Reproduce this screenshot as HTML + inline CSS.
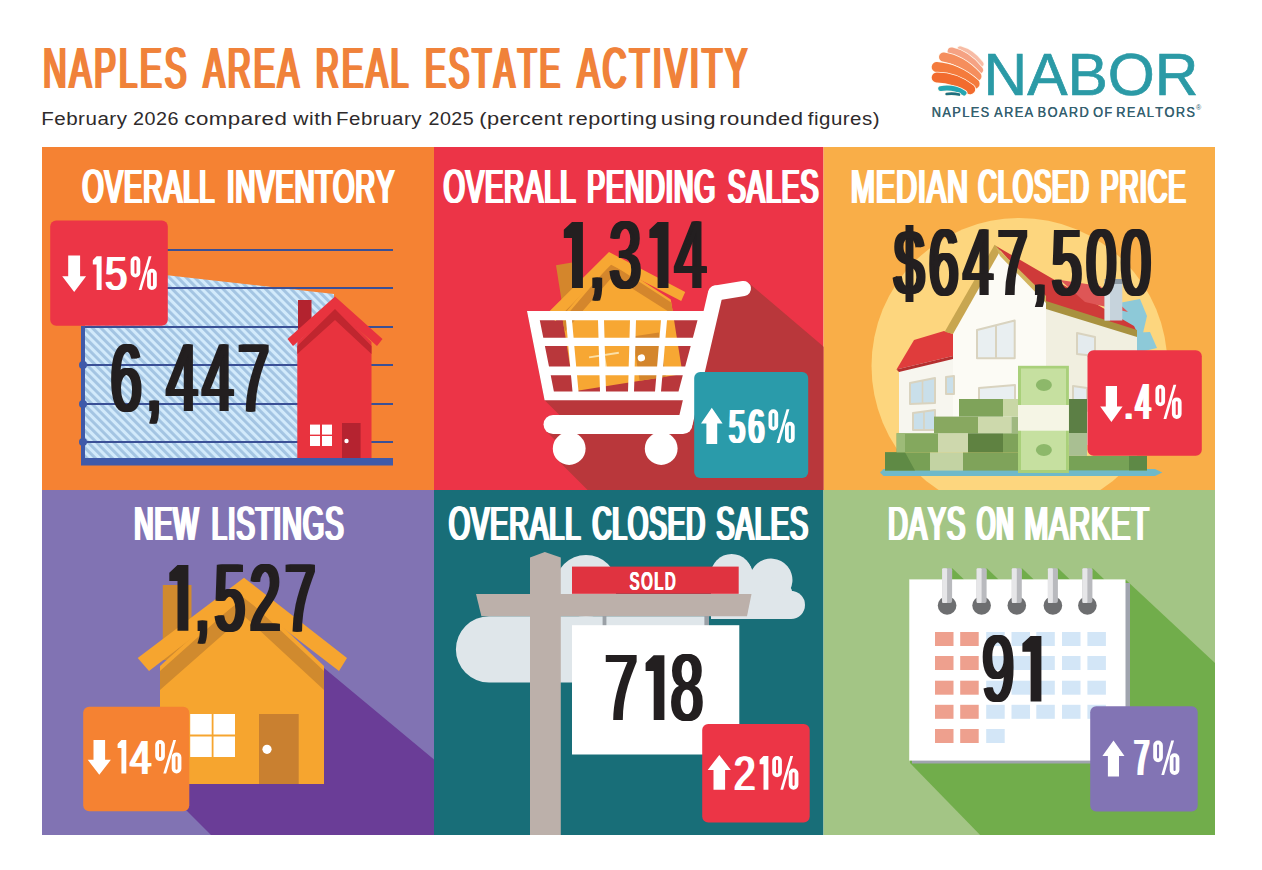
<!DOCTYPE html>
<html><head><meta charset="utf-8"><title>Naples Area Real Estate Activity</title>
<style>
html,body{margin:0;padding:0;background:#fff;}
body{width:1262px;height:870px;overflow:hidden;}
svg{display:block;}
text{font-family:"Liberation Sans",sans-serif;font-kerning:none;font-variant-ligatures:none;}
</style></head><body>
<svg width="1262" height="870" viewBox="0 0 1262 870">
<g><text transform="translate(41.63,88.00) scale(0.5662,1)" font-size="57.41" letter-spacing="5.30" fill="#f0823a">NAPLES</text><g transform="translate(0.99,0)"><text transform="translate(41.63,88.00) scale(0.5662,1)" font-size="57.41" letter-spacing="5.30" fill="#f0823a">NAPLES</text></g><g transform="translate(1.98,0)"><text transform="translate(41.63,88.00) scale(0.5662,1)" font-size="57.41" letter-spacing="5.30" fill="#f0823a">NAPLES</text></g><g transform="translate(2.97,0)"><text transform="translate(41.63,88.00) scale(0.5662,1)" font-size="57.41" letter-spacing="5.30" fill="#f0823a">NAPLES</text></g><text transform="translate(202.04,88.00) scale(0.5532,1)" font-size="57.41" letter-spacing="5.42" fill="#f0823a">AREA</text><g transform="translate(1.01,0)"><text transform="translate(202.04,88.00) scale(0.5532,1)" font-size="57.41" letter-spacing="5.42" fill="#f0823a">AREA</text></g><g transform="translate(2.03,0)"><text transform="translate(202.04,88.00) scale(0.5532,1)" font-size="57.41" letter-spacing="5.42" fill="#f0823a">AREA</text></g><g transform="translate(3.04,0)"><text transform="translate(202.04,88.00) scale(0.5532,1)" font-size="57.41" letter-spacing="5.42" fill="#f0823a">AREA</text></g><text transform="translate(314.28,88.00) scale(0.5572,1)" font-size="57.41" letter-spacing="5.38" fill="#f0823a">REAL</text><g transform="translate(1.01,0)"><text transform="translate(314.28,88.00) scale(0.5572,1)" font-size="57.41" letter-spacing="5.38" fill="#f0823a">REAL</text></g><g transform="translate(2.01,0)"><text transform="translate(314.28,88.00) scale(0.5572,1)" font-size="57.41" letter-spacing="5.38" fill="#f0823a">REAL</text></g><g transform="translate(3.02,0)"><text transform="translate(314.28,88.00) scale(0.5572,1)" font-size="57.41" letter-spacing="5.38" fill="#f0823a">REAL</text></g><text transform="translate(423.67,88.00) scale(0.5370,1)" font-size="57.41" letter-spacing="5.59" fill="#f0823a">ESTATE</text><g transform="translate(1.04,0)"><text transform="translate(423.67,88.00) scale(0.5370,1)" font-size="57.41" letter-spacing="5.59" fill="#f0823a">ESTATE</text></g><g transform="translate(2.08,0)"><text transform="translate(423.67,88.00) scale(0.5370,1)" font-size="57.41" letter-spacing="5.59" fill="#f0823a">ESTATE</text></g><g transform="translate(3.12,0)"><text transform="translate(423.67,88.00) scale(0.5370,1)" font-size="57.41" letter-spacing="5.59" fill="#f0823a">ESTATE</text></g><text transform="translate(576.04,88.00) scale(0.5758,1)" font-size="57.41" letter-spacing="5.21" fill="#f0823a">ACTIVITY</text><g transform="translate(0.97,0)"><text transform="translate(576.04,88.00) scale(0.5758,1)" font-size="57.41" letter-spacing="5.21" fill="#f0823a">ACTIVITY</text></g><g transform="translate(1.94,0)"><text transform="translate(576.04,88.00) scale(0.5758,1)" font-size="57.41" letter-spacing="5.21" fill="#f0823a">ACTIVITY</text></g><g transform="translate(2.92,0)"><text transform="translate(576.04,88.00) scale(0.5758,1)" font-size="57.41" letter-spacing="5.21" fill="#f0823a">ACTIVITY</text></g></g>
<g><text transform="translate(41.21,125.00) scale(1.0875,1)" font-size="18.90" font-weight="400" letter-spacing="0.46" fill="#2e2a2b">February</text><text transform="translate(132.91,125.00) scale(1.0458,1)" font-size="18.90" font-weight="400" letter-spacing="0.48" fill="#2e2a2b">2026</text><text transform="translate(184.25,125.00) scale(1.1804,1)" font-size="18.90" font-weight="400" letter-spacing="0.42" fill="#2e2a2b">compared</text><text transform="translate(293.33,125.00) scale(1.1110,1)" font-size="18.90" font-weight="400" letter-spacing="0.45" fill="#2e2a2b">with</text><text transform="translate(336.12,125.00) scale(1.0834,1)" font-size="18.90" font-weight="400" letter-spacing="0.46" fill="#2e2a2b">February</text><text transform="translate(428.41,125.00) scale(1.0449,1)" font-size="18.90" font-weight="400" letter-spacing="0.48" fill="#2e2a2b">2025</text><text transform="translate(479.15,125.00) scale(1.1528,1)" font-size="18.90" font-weight="400" letter-spacing="0.43" fill="#2e2a2b">(percent</text><text transform="translate(567.97,125.00) scale(1.1414,1)" font-size="18.90" font-weight="400" letter-spacing="0.44" fill="#2e2a2b">reporting</text><text transform="translate(660.87,125.00) scale(1.1679,1)" font-size="18.90" font-weight="400" letter-spacing="0.43" fill="#2e2a2b">using</text><text transform="translate(719.13,125.00) scale(1.1679,1)" font-size="18.90" font-weight="400" letter-spacing="0.43" fill="#2e2a2b">rounded</text><text transform="translate(807.81,125.00) scale(1.0834,1)" font-size="18.90" font-weight="400" letter-spacing="0.46" fill="#2e2a2b">figures)</text></g>
<text x="983.5" y="95.1" font-size="59.4" font-weight="400" fill="#2b9aa6" textLength="215.0" lengthAdjust="spacingAndGlyphs" stroke="#2b9aa6" stroke-width="0.7">NABOR</text>
<g><text transform="translate(931.55,117.00) scale(0.8464,1)" font-size="15.12" font-weight="400" letter-spacing="1.65" fill="#34606f">NAPLES</text><g transform="translate(0.35,0)"><text transform="translate(931.55,117.00) scale(0.8464,1)" font-size="15.12" font-weight="400" letter-spacing="1.65" fill="#34606f">NAPLES</text></g><text transform="translate(993.98,117.00) scale(0.8464,1)" font-size="15.12" font-weight="400" letter-spacing="1.65" fill="#34606f">AREA</text><g transform="translate(0.35,0)"><text transform="translate(993.98,117.00) scale(0.8464,1)" font-size="15.12" font-weight="400" letter-spacing="1.65" fill="#34606f">AREA</text></g><text transform="translate(1037.49,117.00) scale(0.8464,1)" font-size="15.12" font-weight="400" letter-spacing="1.65" fill="#34606f">BOARD</text><g transform="translate(0.35,0)"><text transform="translate(1037.49,117.00) scale(0.8464,1)" font-size="15.12" font-weight="400" letter-spacing="1.65" fill="#34606f">BOARD</text></g><text transform="translate(1092.92,117.00) scale(0.8464,1)" font-size="15.12" font-weight="400" letter-spacing="1.65" fill="#34606f">OF</text><g transform="translate(0.35,0)"><text transform="translate(1092.92,117.00) scale(0.8464,1)" font-size="15.12" font-weight="400" letter-spacing="1.65" fill="#34606f">OF</text></g><text transform="translate(1116.08,117.00) scale(0.8464,1)" font-size="15.12" font-weight="400" letter-spacing="1.65" fill="#34606f">REALTORS</text><g transform="translate(0.35,0)"><text transform="translate(1116.08,117.00) scale(0.8464,1)" font-size="15.12" font-weight="400" letter-spacing="1.65" fill="#34606f">REALTORS</text></g></g>
<text x="1196" y="110" font-size="7" fill="#2f6070" font-family="Liberation Sans">&#174;</text>
<g><path d="M960.3,49.6 Q971.5,52.5 980.2,63.9" stroke="#fffaf0" stroke-width="8.2" fill="none" stroke-linecap="round"/><path d="M960.3,49.6 Q971.5,52.5 980.2,63.9" stroke="#f7bba5" stroke-width="6.5" fill="none" stroke-linecap="round"/><path d="M951.6,51.5 Q966.3,54.4 979,70" stroke="#fffaf0" stroke-width="9.7" fill="none" stroke-linecap="round"/><path d="M951.6,51.5 Q966.3,54.4 979,70" stroke="#f5a283" stroke-width="8.0" fill="none" stroke-linecap="round"/><path d="M943.5,57 Q961.3,59.4 977,76.3" stroke="#fffaf0" stroke-width="10.7" fill="none" stroke-linecap="round"/><path d="M943.5,57 Q961.3,59.4 977,76.3" stroke="#f58e5d" stroke-width="9.0" fill="none" stroke-linecap="round"/><path d="M936.7,67 Q957,68.5 974.6,83.8" stroke="#fffaf0" stroke-width="11.7" fill="none" stroke-linecap="round"/><path d="M936.7,67 Q957,68.5 974.6,83.8" stroke="#f47b3d" stroke-width="10.0" fill="none" stroke-linecap="round"/><path d="M936.7,77.5 Q954.8,77.3 970.2,89.3" stroke="#fffaf0" stroke-width="11.7" fill="none" stroke-linecap="round"/><path d="M936.7,77.5 Q954.8,77.3 970.2,89.3" stroke="#f26b2e" stroke-width="10.0" fill="none" stroke-linecap="round"/><path d="M940.7,88.6 Q953.8,86.5 964,93" stroke="#fffaf0" stroke-width="6.7" fill="none" stroke-linecap="round"/><path d="M940.7,88.6 Q953.8,86.5 964,93" stroke="#25a6b2" stroke-width="5.0" fill="none" stroke-linecap="round"/><path d="M946.6,94 Q953,93 959,94.6" stroke="#fffaf0" stroke-width="4.3" fill="none" stroke-linecap="round"/><path d="M946.6,94 Q953,93 959,94.6" stroke="#1f6f7e" stroke-width="2.6" fill="none" stroke-linecap="round"/></g>
<rect x="42.0" y="147.0" width="392.0" height="343.0" fill="#f58233"/>
<rect x="434.0" y="147.0" width="389.5" height="343.0" fill="#ec3447"/>
<rect x="823.5" y="147.0" width="391.5" height="343.0" fill="#f9ae48"/>
<rect x="42.0" y="490.0" width="392.0" height="345.0" fill="#8173b3"/>
<rect x="434.0" y="490.0" width="389.5" height="345.0" fill="#186e78"/>
<rect x="823.5" y="490.0" width="391.5" height="345.0" fill="#a3c585"/>
<defs><pattern id="hatch" patternUnits="userSpaceOnUse" width="6.0" height="6.0" patternTransform="rotate(-45)">
<rect width="6.0" height="6.0" fill="#d2eafb"/><rect width="2.9" height="6.0" fill="#a3c4e2"/></pattern></defs>
<polygon points="85.0,266.0 334.0,294.0 334.0,458.0 85.0,458.0" fill="url(#hatch)"/>
<line x1="83.0" y1="250.0" x2="393.0" y2="250.0" stroke="#3a5096" stroke-width="2.2" stroke-linecap="butt"/>
<line x1="83.0" y1="288.0" x2="393.0" y2="288.0" stroke="#3a5096" stroke-width="2.2" stroke-linecap="butt"/>
<line x1="83.0" y1="327.0" x2="393.0" y2="327.0" stroke="#3a5096" stroke-width="2.2" stroke-linecap="butt"/>
<line x1="83.0" y1="365.0" x2="393.0" y2="365.0" stroke="#3a5096" stroke-width="2.2" stroke-linecap="butt"/>
<line x1="83.0" y1="404.0" x2="393.0" y2="404.0" stroke="#3a5096" stroke-width="2.2" stroke-linecap="butt"/>
<line x1="83.0" y1="442.0" x2="393.0" y2="442.0" stroke="#3a5096" stroke-width="2.2" stroke-linecap="butt"/>
<rect x="81.0" y="326.0" width="4.0" height="139.0" fill="#3f5aa9"/>
<circle cx="83.0" cy="365.0" r="4.0" fill="#3f5aa9"/>
<circle cx="83.0" cy="404.0" r="4.0" fill="#3f5aa9"/>
<circle cx="83.0" cy="442.0" r="4.0" fill="#3f5aa9"/>
<rect x="81.0" y="458.0" width="312.0" height="7.5" fill="#3f5aa9"/>
<rect x="298.0" y="300.0" width="13.5" height="30.0" fill="#b3232f"/>
<polygon points="297.3,342.0 335.0,306.0 371.5,342.0 371.5,458.0 297.3,458.0" fill="#e8333e"/>
<polygon points="287.5,339.0 335.0,296.4 382.5,339.0 377.0,346.0 335.0,309.0 293.0,346.0" fill="#e8333e"/>
<polygon points="297.3,346.0 335.0,309.0 371.5,346.0 371.5,354.0 335.0,320.0 297.3,354.0" fill="#c0262f"/>
<rect x="310.0" y="424.6" width="10.0" height="10.0" fill="#ffffff"/>
<rect x="322.0" y="424.6" width="10.0" height="10.0" fill="#ffffff"/>
<rect x="310.0" y="436.0" width="10.0" height="10.0" fill="#ffffff"/>
<rect x="322.0" y="436.0" width="10.0" height="10.0" fill="#ffffff"/>
<rect x="342.0" y="423.0" width="18.6" height="35.0" fill="#b52330"/>
<circle cx="346.5" cy="441.0" r="2.2" fill="#ffffff"/>
<g><text transform="translate(108.14,411.10) scale(0.5817,1)" font-size="96.66" fill="#231f20">6</text><g transform="translate(1.14,0)"><text transform="translate(108.14,411.10) scale(0.5817,1)" font-size="96.66" fill="#231f20">6</text></g><g transform="translate(2.28,0)"><text transform="translate(108.14,411.10) scale(0.5817,1)" font-size="96.66" fill="#231f20">6</text></g><g transform="translate(3.42,0)"><text transform="translate(108.14,411.10) scale(0.5817,1)" font-size="96.66" fill="#231f20">6</text></g><g transform="translate(4.56,0)"><text transform="translate(108.14,411.10) scale(0.5817,1)" font-size="96.66" fill="#231f20">6</text></g><text transform="translate(143.97,411.10) scale(0.5817,1)" font-size="96.66" fill="#231f20">,</text><g transform="translate(1.14,0)"><text transform="translate(143.97,411.10) scale(0.5817,1)" font-size="96.66" fill="#231f20">,</text></g><g transform="translate(2.28,0)"><text transform="translate(143.97,411.10) scale(0.5817,1)" font-size="96.66" fill="#231f20">,</text></g><g transform="translate(3.42,0)"><text transform="translate(143.97,411.10) scale(0.5817,1)" font-size="96.66" fill="#231f20">,</text></g><g transform="translate(4.56,0)"><text transform="translate(143.97,411.10) scale(0.5817,1)" font-size="96.66" fill="#231f20">,</text></g><text transform="translate(164.15,411.10) scale(0.5817,1)" font-size="96.66" fill="#231f20">4</text><g transform="translate(1.14,0)"><text transform="translate(164.15,411.10) scale(0.5817,1)" font-size="96.66" fill="#231f20">4</text></g><g transform="translate(2.28,0)"><text transform="translate(164.15,411.10) scale(0.5817,1)" font-size="96.66" fill="#231f20">4</text></g><g transform="translate(3.42,0)"><text transform="translate(164.15,411.10) scale(0.5817,1)" font-size="96.66" fill="#231f20">4</text></g><g transform="translate(4.56,0)"><text transform="translate(164.15,411.10) scale(0.5817,1)" font-size="96.66" fill="#231f20">4</text></g><text transform="translate(199.98,411.10) scale(0.5817,1)" font-size="96.66" fill="#231f20">4</text><g transform="translate(1.14,0)"><text transform="translate(199.98,411.10) scale(0.5817,1)" font-size="96.66" fill="#231f20">4</text></g><g transform="translate(2.28,0)"><text transform="translate(199.98,411.10) scale(0.5817,1)" font-size="96.66" fill="#231f20">4</text></g><g transform="translate(3.42,0)"><text transform="translate(199.98,411.10) scale(0.5817,1)" font-size="96.66" fill="#231f20">4</text></g><g transform="translate(4.56,0)"><text transform="translate(199.98,411.10) scale(0.5817,1)" font-size="96.66" fill="#231f20">4</text></g><text transform="translate(235.80,411.10) scale(0.5817,1)" font-size="96.66" fill="#231f20">7</text><g transform="translate(1.14,0)"><text transform="translate(235.80,411.10) scale(0.5817,1)" font-size="96.66" fill="#231f20">7</text></g><g transform="translate(2.28,0)"><text transform="translate(235.80,411.10) scale(0.5817,1)" font-size="96.66" fill="#231f20">7</text></g><g transform="translate(3.42,0)"><text transform="translate(235.80,411.10) scale(0.5817,1)" font-size="96.66" fill="#231f20">7</text></g><g transform="translate(4.56,0)"><text transform="translate(235.80,411.10) scale(0.5817,1)" font-size="96.66" fill="#231f20">7</text></g></g>
<rect x="50.2" y="220.5" width="117.6" height="105.3" fill="#ec3546" rx="6"/>
<polygon points="74.2,291.9 86.1,276.3 80.1,276.3 80.1,255.6 68.2,255.6 68.2,276.3 62.2,276.3" fill="#ffffff"/>
<g><polygon points="96.6,256.3 101.6,256.3 101.6,290.0 96.6,290.0 96.6,264.5 92.8,264.5 92.8,260.3" fill="#ffffff"/><text transform="translate(104.06,290.00) scale(0.8119,1)" font-size="48.98" fill="#ffffff">5</text><g transform="translate(1.15,0)"><text transform="translate(104.06,290.00) scale(0.8119,1)" font-size="48.98" fill="#ffffff">5</text></g><g transform="translate(2.29,0)"><text transform="translate(104.06,290.00) scale(0.8119,1)" font-size="48.98" fill="#ffffff">5</text></g></g>
<rect x="132.50" y="258.20" width="5.89" height="17.43" rx="2.95" fill="none" stroke="#ffffff" stroke-width="3.8"/><rect x="149.01" y="270.67" width="5.89" height="17.43" rx="2.95" fill="none" stroke="#ffffff" stroke-width="3.8"/><polygon points="148.68,256.30 151.48,256.30 141.52,290.00 138.72,290.00" fill="#ffffff"/>
<g><text transform="translate(81.01,202.70) scale(0.5624,1)" font-size="48.55" letter-spacing="1.78" fill="#ffffff">OVERALL</text><g transform="translate(0.95,0)"><text transform="translate(81.01,202.70) scale(0.5624,1)" font-size="48.55" letter-spacing="1.78" fill="#ffffff">OVERALL</text></g><g transform="translate(1.90,0)"><text transform="translate(81.01,202.70) scale(0.5624,1)" font-size="48.55" letter-spacing="1.78" fill="#ffffff">OVERALL</text></g><g transform="translate(2.85,0)"><text transform="translate(81.01,202.70) scale(0.5624,1)" font-size="48.55" letter-spacing="1.78" fill="#ffffff">OVERALL</text></g><text transform="translate(225.48,202.70) scale(0.5634,1)" font-size="48.55" letter-spacing="1.77" fill="#ffffff">INVENTORY</text><g transform="translate(0.95,0)"><text transform="translate(225.48,202.70) scale(0.5634,1)" font-size="48.55" letter-spacing="1.77" fill="#ffffff">INVENTORY</text></g><g transform="translate(1.90,0)"><text transform="translate(225.48,202.70) scale(0.5634,1)" font-size="48.55" letter-spacing="1.77" fill="#ffffff">INVENTORY</text></g><g transform="translate(2.85,0)"><text transform="translate(225.48,202.70) scale(0.5634,1)" font-size="48.55" letter-spacing="1.77" fill="#ffffff">INVENTORY</text></g></g>
<clipPath id="p2"><rect x="434" y="147" width="389.5" height="343"/></clipPath>
<g clip-path="url(#p2)">
<polygon points="527.0,311.0 712.0,311.0 716.0,291.0 748.2,282.6 840.0,360.6 840.0,500.0 587.6,490.0 558.6,461.0 556.0,441.0 546.3,431.2 560.0,415.5 544.6,400.2" fill="#b9373b"/>
<clipPath id="cartclip"><rect x="430" y="140" width="400" height="259"/></clipPath>
<g clip-path="url(#cartclip)"><g transform="translate(609,252) rotate(-9) scale(0.67,0.64) translate(-244,-577.7)"><rect x="162.8" y="585" width="28.7" height="80" fill="#d4862c"/><polygon points="160,666 244,590 324,666 324,784 160,784" fill="#f7a733"/><polygon points="160,671 244,596 324,671 324,690 244,616 160,690" fill="#d4862c"/><polygon points="137.7,658 244,577.7 347,658 339,671 244,598 149,671" fill="#f7a733"/><path d="M190,735.5 H235 M212.5,714 V757" stroke="#fbe0a8" stroke-width="3"/><rect x="259" y="714" width="39.7" height="70" fill="#d4862c"/><circle cx="267" cy="749" r="5.5" fill="#fff"/></g></g>
<g><polygon points="572.0,222.0 582.9,222.0 582.9,288.0 572.0,288.0 572.0,238.0 563.8,238.0 563.8,229.8" fill="#231f20"/><text transform="translate(586.94,288.00) scale(0.5932,1)" font-size="95.93" fill="#231f20">,</text><g transform="translate(1.12,0)"><text transform="translate(586.94,288.00) scale(0.5932,1)" font-size="95.93" fill="#231f20">,</text></g><g transform="translate(2.25,0)"><text transform="translate(586.94,288.00) scale(0.5932,1)" font-size="95.93" fill="#231f20">,</text></g><g transform="translate(3.37,0)"><text transform="translate(586.94,288.00) scale(0.5932,1)" font-size="95.93" fill="#231f20">,</text></g><g transform="translate(4.49,0)"><text transform="translate(586.94,288.00) scale(0.5932,1)" font-size="95.93" fill="#231f20">,</text></g><text transform="translate(607.24,288.00) scale(0.5932,1)" font-size="95.93" fill="#231f20">3</text><g transform="translate(1.12,0)"><text transform="translate(607.24,288.00) scale(0.5932,1)" font-size="95.93" fill="#231f20">3</text></g><g transform="translate(2.25,0)"><text transform="translate(607.24,288.00) scale(0.5932,1)" font-size="95.93" fill="#231f20">3</text></g><g transform="translate(3.37,0)"><text transform="translate(607.24,288.00) scale(0.5932,1)" font-size="95.93" fill="#231f20">3</text></g><g transform="translate(4.49,0)"><text transform="translate(607.24,288.00) scale(0.5932,1)" font-size="95.93" fill="#231f20">3</text></g><polygon points="657.6,222.0 668.5,222.0 668.5,288.0 657.6,288.0 657.6,238.0 649.4,238.0 649.4,229.8" fill="#231f20"/><text transform="translate(672.53,288.00) scale(0.5932,1)" font-size="95.93" fill="#231f20">4</text><g transform="translate(1.12,0)"><text transform="translate(672.53,288.00) scale(0.5932,1)" font-size="95.93" fill="#231f20">4</text></g><g transform="translate(2.25,0)"><text transform="translate(672.53,288.00) scale(0.5932,1)" font-size="95.93" fill="#231f20">4</text></g><g transform="translate(3.37,0)"><text transform="translate(672.53,288.00) scale(0.5932,1)" font-size="95.93" fill="#231f20">4</text></g><g transform="translate(4.49,0)"><text transform="translate(672.53,288.00) scale(0.5932,1)" font-size="95.93" fill="#231f20">4</text></g></g>
<path d="M527,311 L716,311 L692,400.2 L544.6,400.2 Z M539.8,320.3 L566.0,320.3 L567.6,337.7 L543.3,337.7 Z M572.0,320.3 L598.0,320.3 L598.5,337.7 L573.6,337.7 Z M604.0,320.3 L630.0,320.3 L629.5,337.7 L604.5,337.7 Z M636.0,320.3 L661.0,320.3 L659.5,337.7 L635.5,337.7 Z M667.0,320.3 L697.5,320.3 L692.9,337.7 L665.5,337.7 Z M544.9,346 L568.3,346 L570.2,366.6 L549.0,366.6 Z M574.3,346 L598.7,346 L599.3,366.6 L576.2,366.6 Z M604.7,346 L629.3,346 L628.7,366.6 L605.3,366.6 Z M635.3,346 L658.8,346 L657.1,366.6 L634.7,366.6 Z M664.8,346 L690.7,346 L685.2,366.6 L663.1,366.6 Z M550.7,375.3 L571.0,375.3 L572.5,391.6 L553.9,391.6 Z M577.0,375.3 L599.5,375.3 L600.0,391.6 L578.5,391.6 Z M605.5,375.3 L628.5,375.3 L628.0,391.6 L606.0,391.6 Z M634.5,375.3 L656.4,375.3 L655.0,391.6 L634.0,391.6 Z M662.4,375.3 L682.8,375.3 L678.5,391.6 L661.0,391.6 Z " fill="#fff" fill-rule="evenodd"/>
<line x1="715.5" y1="293.0" x2="685.5" y2="422.0" stroke="#ffffff" stroke-width="15" stroke-linecap="round"/>
<line x1="716.0" y1="293.0" x2="743.5" y2="288.5" stroke="#ffffff" stroke-width="15" stroke-linecap="round"/>
<line x1="553.0" y1="424.5" x2="683.0" y2="424.5" stroke="#ffffff" stroke-width="19" stroke-linecap="round"/>
<circle cx="569.2" cy="448.5" r="16.4" fill="#ffffff"/>
<circle cx="661.2" cy="448.5" r="16.4" fill="#ffffff"/>
</g>
<rect x="694.2" y="372.0" width="114.0" height="106.0" fill="#2a9baa" rx="6"/>
<polygon points="711.8,407.8 722.6,423.4 717.2,423.4 717.2,444.0 706.4,444.0 706.4,423.4 701.0,423.4" fill="#ffffff"/>
<g><text transform="translate(727.45,443.00) scale(0.5845,1)" font-size="48.98" fill="#ffffff">5</text><g transform="translate(1.11,0)"><text transform="translate(727.45,443.00) scale(0.5845,1)" font-size="48.98" fill="#ffffff">5</text></g><g transform="translate(2.22,0)"><text transform="translate(727.45,443.00) scale(0.5845,1)" font-size="48.98" fill="#ffffff">5</text></g><g transform="translate(3.33,0)"><text transform="translate(727.45,443.00) scale(0.5845,1)" font-size="48.98" fill="#ffffff">5</text></g><text transform="translate(746.71,443.00) scale(0.5845,1)" font-size="48.98" fill="#ffffff">6</text><g transform="translate(1.11,0)"><text transform="translate(746.71,443.00) scale(0.5845,1)" font-size="48.98" fill="#ffffff">6</text></g><g transform="translate(2.22,0)"><text transform="translate(746.71,443.00) scale(0.5845,1)" font-size="48.98" fill="#ffffff">6</text></g><g transform="translate(3.33,0)"><text transform="translate(746.71,443.00) scale(0.5845,1)" font-size="48.98" fill="#ffffff">6</text></g></g>
<rect x="770.40" y="411.20" width="5.89" height="17.43" rx="2.95" fill="none" stroke="#ffffff" stroke-width="3.8"/><rect x="786.91" y="423.67" width="5.89" height="17.43" rx="2.95" fill="none" stroke="#ffffff" stroke-width="3.8"/><polygon points="786.58,409.30 789.38,409.30 779.42,443.00 776.62,443.00" fill="#ffffff"/>
<g><text transform="translate(442.21,202.70) scale(0.5619,1)" font-size="48.55" letter-spacing="1.78" fill="#ffffff">OVERALL</text><g transform="translate(0.95,0)"><text transform="translate(442.21,202.70) scale(0.5619,1)" font-size="48.55" letter-spacing="1.78" fill="#ffffff">OVERALL</text></g><g transform="translate(1.90,0)"><text transform="translate(442.21,202.70) scale(0.5619,1)" font-size="48.55" letter-spacing="1.78" fill="#ffffff">OVERALL</text></g><g transform="translate(2.86,0)"><text transform="translate(442.21,202.70) scale(0.5619,1)" font-size="48.55" letter-spacing="1.78" fill="#ffffff">OVERALL</text></g><text transform="translate(585.70,202.70) scale(0.5520,1)" font-size="48.55" letter-spacing="1.81" fill="#ffffff">PENDING</text><g transform="translate(0.97,0)"><text transform="translate(585.70,202.70) scale(0.5520,1)" font-size="48.55" letter-spacing="1.81" fill="#ffffff">PENDING</text></g><g transform="translate(1.93,0)"><text transform="translate(585.70,202.70) scale(0.5520,1)" font-size="48.55" letter-spacing="1.81" fill="#ffffff">PENDING</text></g><g transform="translate(2.90,0)"><text transform="translate(585.70,202.70) scale(0.5520,1)" font-size="48.55" letter-spacing="1.81" fill="#ffffff">PENDING</text></g><text transform="translate(726.38,202.70) scale(0.5537,1)" font-size="48.55" letter-spacing="1.81" fill="#ffffff">SALES</text><g transform="translate(0.96,0)"><text transform="translate(726.38,202.70) scale(0.5537,1)" font-size="48.55" letter-spacing="1.81" fill="#ffffff">SALES</text></g><g transform="translate(1.93,0)"><text transform="translate(726.38,202.70) scale(0.5537,1)" font-size="48.55" letter-spacing="1.81" fill="#ffffff">SALES</text></g><g transform="translate(2.89,0)"><text transform="translate(726.38,202.70) scale(0.5537,1)" font-size="48.55" letter-spacing="1.81" fill="#ffffff">SALES</text></g></g>
<clipPath id="p3"><rect x="823.5" y="147" width="391.5" height="343"/></clipPath>
<g clip-path="url(#p3)">
<circle cx="1019.5" cy="366.0" r="148.0" fill="#fdd67e"/>
<polygon points="1119.0,303.0 1140.0,299.0 1147.0,316.0 1143.0,333.0 1125.0,336.0" fill="#8dc9d8"/>
<polygon points="1128.0,333.0 1150.0,332.0 1157.0,348.0 1136.0,353.0" fill="#8dc9d8"/>
<polygon points="1046.0,303.0 1137.0,335.0 1137.0,445.0 1046.0,445.0" fill="#f1efe0"/>
<polygon points="953.0,333.0 996.0,250.0 1046.0,301.0 1046.0,445.0 953.0,445.0" fill="#fcfbf5"/>
<polygon points="899.0,368.0 953.0,355.0 953.0,445.0 899.0,445.0" fill="#f7f6ef"/>
<polygon points="914.0,340.0 944.0,331.0 953.0,334.0 953.0,356.0 896.5,369.5" fill="#e03c3c"/>
<polygon points="896.5,369.5 953.0,356.0 953.0,359.0 899.0,372.0" fill="#b52f2f"/>
<polygon points="944.7,331.7 994.6,244.8 1001.0,249.5 953.0,334.0" fill="#c8a650"/>
<polygon points="996.0,246.0 1134.0,326.0 1137.0,332.0 1046.0,302.0 1001.0,251.0" fill="#cf3a39"/>
<polygon points="1060.0,280.0 1100.0,286.0 1128.0,312.0 1085.0,302.0" fill="#de5656"/>
<polygon points="996.0,247.0 1046.0,296.0 1046.0,303.0 1000.0,256.0" fill="#d2b45e"/>
<polygon points="1046.0,301.0 1137.0,330.0 1137.0,337.0 1046.0,309.0" fill="#a8913f"/>
<rect x="1104.6" y="282.0" width="17.7" height="38.5" fill="#c6d3dc"/>
<rect x="1104.6" y="282.0" width="5.4" height="38.5" fill="#dfe7ec"/>
<rect x="1104.6" y="279.0" width="17.7" height="5.0" fill="#8e9aa3"/>
<polygon points="977.0,330.0 1014.7,320.5 1014.7,358.3 977.0,358.3" fill="#e9eff1" stroke="#d9d3bf" stroke-width="2" stroke-linejoin="round"/>
<line x1="996.0" y1="326.0" x2="996.0" y2="358.0" stroke="#d9d3bf" stroke-width="2" stroke-linecap="butt"/>
<polygon points="979.0,388.0 1015.0,385.0 1015.0,400.0 979.0,400.0" fill="#e9eff1" stroke="#d9d3bf" stroke-width="2" stroke-linejoin="round"/>
<polygon points="1077.0,333.0 1095.0,337.0 1095.0,356.0 1077.0,354.0" fill="#e4ebee" stroke="#d9d3bf" stroke-width="2" stroke-linejoin="round"/>
<polygon points="1073.0,386.0 1087.0,388.0 1087.0,411.0 1073.0,411.0" fill="#e4ebee" stroke="#d9d3bf" stroke-width="2" stroke-linejoin="round"/>
<polygon points="910.0,383.0 935.0,378.0 935.0,403.0 910.0,404.0" fill="#c9dfea" stroke="#d9d3bf" stroke-width="2" stroke-linejoin="round"/>
<line x1="922.5" y1="381.0" x2="922.5" y2="404.0" stroke="#d9d3bf" stroke-width="1.6" stroke-linecap="butt"/>
<polygon points="913.0,413.0 935.0,410.0 935.0,430.0 913.0,430.0" fill="#c9dfea" stroke="#d9d3bf" stroke-width="2" stroke-linejoin="round"/>
<line x1="924.0" y1="412.0" x2="924.0" y2="430.0" stroke="#d9d3bf" stroke-width="1.6" stroke-linecap="butt"/>
<polygon points="946.0,377.0 954.0,376.0 954.0,394.0 946.0,394.0" fill="#c9dfea" stroke="#d9d3bf" stroke-width="2" stroke-linejoin="round"/>
<polygon points="883.5,469.0 1155.0,469.0 1162.3,472.5 1155.0,476.0 883.5,476.0 880.0,472.5" fill="#6fb9c9"/>
<rect x="885.0" y="452.3" width="45.0" height="18.3" fill="#78a055"/>
<polygon points="885.0,452.3 905.0,452.3 915.0,470.6 885.0,470.6" fill="#5f8a45"/>
<rect x="930.0" y="452.3" width="33.0" height="18.3" fill="#c3d3a3"/>
<rect x="963.0" y="452.3" width="55.0" height="18.3" fill="#7fa35a"/>
<rect x="1069.0" y="455.9" width="78.0" height="14.5" fill="#77a256"/>
<rect x="1129.0" y="455.9" width="18.0" height="14.5" fill="#5e8946"/>
<rect x="896.6" y="433.2" width="41.4" height="19.1" fill="#84a85e"/>
<rect x="896.6" y="433.2" width="8.4" height="19.1" fill="#9dbb78"/>
<rect x="938.0" y="433.2" width="30.0" height="19.1" fill="#ced8ad"/>
<rect x="968.0" y="433.2" width="35.0" height="19.1" fill="#5f8241"/>
<rect x="1003.0" y="433.2" width="15.0" height="19.1" fill="#7fa35a"/>
<rect x="934.0" y="416.6" width="44.0" height="16.6" fill="#88a860"/>
<rect x="978.0" y="416.6" width="33.4" height="16.6" fill="#cdd9ac"/>
<rect x="1011.4" y="416.6" width="6.6" height="16.6" fill="#9fb880"/>
<rect x="959.0" y="399.0" width="44.0" height="17.6" fill="#7fa35a"/>
<rect x="1003.0" y="399.0" width="15.0" height="17.6" fill="#c9d7a6"/>
<rect x="1069.0" y="399.0" width="18.0" height="34.0" fill="#5c7f45"/>
<rect x="1069.0" y="433.0" width="18.0" height="22.9" fill="#a9bf92"/>
<rect x="1018.0" y="365.8" width="50.9" height="107.2" fill="#a9d07a"/>
<rect x="1021.0" y="368.5" width="45.0" height="101.5" fill="#c6e0a0"/>
<rect x="1018.0" y="405.0" width="50.9" height="25.7" fill="#f5f5e5"/>
<ellipse cx="1043.9" cy="385" rx="8" ry="6" fill="#8db86a"/><ellipse cx="1043.9" cy="449.9" rx="8" ry="6" fill="#8db86a"/>
</g>
<g><text transform="translate(892.03,295.40) scale(0.5636,1)" font-size="94.62" fill="#231f20">$</text><g transform="translate(1.21,0)"><text transform="translate(892.03,295.40) scale(0.5636,1)" font-size="94.62" fill="#231f20">$</text></g><g transform="translate(2.41,0)"><text transform="translate(892.03,295.40) scale(0.5636,1)" font-size="94.62" fill="#231f20">$</text></g><g transform="translate(3.62,0)"><text transform="translate(892.03,295.40) scale(0.5636,1)" font-size="94.62" fill="#231f20">$</text></g><g transform="translate(4.83,0)"><text transform="translate(892.03,295.40) scale(0.5636,1)" font-size="94.62" fill="#231f20">$</text></g><text transform="translate(926.51,295.40) scale(0.5636,1)" font-size="94.62" fill="#231f20">6</text><g transform="translate(1.21,0)"><text transform="translate(926.51,295.40) scale(0.5636,1)" font-size="94.62" fill="#231f20">6</text></g><g transform="translate(2.41,0)"><text transform="translate(926.51,295.40) scale(0.5636,1)" font-size="94.62" fill="#231f20">6</text></g><g transform="translate(3.62,0)"><text transform="translate(926.51,295.40) scale(0.5636,1)" font-size="94.62" fill="#231f20">6</text></g><g transform="translate(4.83,0)"><text transform="translate(926.51,295.40) scale(0.5636,1)" font-size="94.62" fill="#231f20">6</text></g><text transform="translate(961.00,295.40) scale(0.5636,1)" font-size="94.62" fill="#231f20">4</text><g transform="translate(1.21,0)"><text transform="translate(961.00,295.40) scale(0.5636,1)" font-size="94.62" fill="#231f20">4</text></g><g transform="translate(2.41,0)"><text transform="translate(961.00,295.40) scale(0.5636,1)" font-size="94.62" fill="#231f20">4</text></g><g transform="translate(3.62,0)"><text transform="translate(961.00,295.40) scale(0.5636,1)" font-size="94.62" fill="#231f20">4</text></g><g transform="translate(4.83,0)"><text transform="translate(961.00,295.40) scale(0.5636,1)" font-size="94.62" fill="#231f20">4</text></g><text transform="translate(995.49,295.40) scale(0.5636,1)" font-size="94.62" fill="#231f20">7</text><g transform="translate(1.21,0)"><text transform="translate(995.49,295.40) scale(0.5636,1)" font-size="94.62" fill="#231f20">7</text></g><g transform="translate(2.41,0)"><text transform="translate(995.49,295.40) scale(0.5636,1)" font-size="94.62" fill="#231f20">7</text></g><g transform="translate(3.62,0)"><text transform="translate(995.49,295.40) scale(0.5636,1)" font-size="94.62" fill="#231f20">7</text></g><g transform="translate(4.83,0)"><text transform="translate(995.49,295.40) scale(0.5636,1)" font-size="94.62" fill="#231f20">7</text></g><text transform="translate(1029.98,295.40) scale(0.5636,1)" font-size="94.62" fill="#231f20">,</text><g transform="translate(1.21,0)"><text transform="translate(1029.98,295.40) scale(0.5636,1)" font-size="94.62" fill="#231f20">,</text></g><g transform="translate(2.41,0)"><text transform="translate(1029.98,295.40) scale(0.5636,1)" font-size="94.62" fill="#231f20">,</text></g><g transform="translate(3.62,0)"><text transform="translate(1029.98,295.40) scale(0.5636,1)" font-size="94.62" fill="#231f20">,</text></g><g transform="translate(4.83,0)"><text transform="translate(1029.98,295.40) scale(0.5636,1)" font-size="94.62" fill="#231f20">,</text></g><text transform="translate(1049.62,295.40) scale(0.5636,1)" font-size="94.62" fill="#231f20">5</text><g transform="translate(1.21,0)"><text transform="translate(1049.62,295.40) scale(0.5636,1)" font-size="94.62" fill="#231f20">5</text></g><g transform="translate(2.41,0)"><text transform="translate(1049.62,295.40) scale(0.5636,1)" font-size="94.62" fill="#231f20">5</text></g><g transform="translate(3.62,0)"><text transform="translate(1049.62,295.40) scale(0.5636,1)" font-size="94.62" fill="#231f20">5</text></g><g transform="translate(4.83,0)"><text transform="translate(1049.62,295.40) scale(0.5636,1)" font-size="94.62" fill="#231f20">5</text></g><text transform="translate(1084.11,295.40) scale(0.5636,1)" font-size="94.62" fill="#231f20">0</text><g transform="translate(1.21,0)"><text transform="translate(1084.11,295.40) scale(0.5636,1)" font-size="94.62" fill="#231f20">0</text></g><g transform="translate(2.41,0)"><text transform="translate(1084.11,295.40) scale(0.5636,1)" font-size="94.62" fill="#231f20">0</text></g><g transform="translate(3.62,0)"><text transform="translate(1084.11,295.40) scale(0.5636,1)" font-size="94.62" fill="#231f20">0</text></g><g transform="translate(4.83,0)"><text transform="translate(1084.11,295.40) scale(0.5636,1)" font-size="94.62" fill="#231f20">0</text></g><text transform="translate(1118.60,295.40) scale(0.5636,1)" font-size="94.62" fill="#231f20">0</text><g transform="translate(1.21,0)"><text transform="translate(1118.60,295.40) scale(0.5636,1)" font-size="94.62" fill="#231f20">0</text></g><g transform="translate(2.41,0)"><text transform="translate(1118.60,295.40) scale(0.5636,1)" font-size="94.62" fill="#231f20">0</text></g><g transform="translate(3.62,0)"><text transform="translate(1118.60,295.40) scale(0.5636,1)" font-size="94.62" fill="#231f20">0</text></g><g transform="translate(4.83,0)"><text transform="translate(1118.60,295.40) scale(0.5636,1)" font-size="94.62" fill="#231f20">0</text></g></g>
<rect x="1087.5" y="350.2" width="114.3" height="105.6" fill="#ec3546" rx="6"/>
<polygon points="1111.4,421.9 1122.6,406.5 1117.0,406.5 1117.0,386.0 1105.8,386.0 1105.8,406.5 1100.2,406.5" fill="#ffffff"/>
<g><text transform="translate(1123.17,418.90) scale(0.5361,1)" font-size="49.56" fill="#ffffff">.</text><g transform="translate(1.17,0)"><text transform="translate(1123.17,418.90) scale(0.5361,1)" font-size="49.56" fill="#ffffff">.</text></g><g transform="translate(2.35,0)"><text transform="translate(1123.17,418.90) scale(0.5361,1)" font-size="49.56" fill="#ffffff">.</text></g><g transform="translate(3.52,0)"><text transform="translate(1123.17,418.90) scale(0.5361,1)" font-size="49.56" fill="#ffffff">.</text></g><text transform="translate(1134.08,418.90) scale(0.5361,1)" font-size="49.56" fill="#ffffff">4</text><g transform="translate(1.17,0)"><text transform="translate(1134.08,418.90) scale(0.5361,1)" font-size="49.56" fill="#ffffff">4</text></g><g transform="translate(2.35,0)"><text transform="translate(1134.08,418.90) scale(0.5361,1)" font-size="49.56" fill="#ffffff">4</text></g><g transform="translate(3.52,0)"><text transform="translate(1134.08,418.90) scale(0.5361,1)" font-size="49.56" fill="#ffffff">4</text></g></g>
<rect x="1157.30" y="386.70" width="5.89" height="17.68" rx="2.95" fill="none" stroke="#ffffff" stroke-width="3.8"/><rect x="1173.81" y="399.32" width="5.89" height="17.68" rx="2.95" fill="none" stroke="#ffffff" stroke-width="3.8"/><polygon points="1173.48,384.80 1176.28,384.80 1166.32,418.90 1163.52,418.90" fill="#ffffff"/>
<g><text transform="translate(849.54,202.70) scale(0.5937,1)" font-size="48.55" letter-spacing="1.68" fill="#ffffff">MEDIAN</text><g transform="translate(0.90,0)"><text transform="translate(849.54,202.70) scale(0.5937,1)" font-size="48.55" letter-spacing="1.68" fill="#ffffff">MEDIAN</text></g><g transform="translate(1.81,0)"><text transform="translate(849.54,202.70) scale(0.5937,1)" font-size="48.55" letter-spacing="1.68" fill="#ffffff">MEDIAN</text></g><g transform="translate(2.71,0)"><text transform="translate(849.54,202.70) scale(0.5937,1)" font-size="48.55" letter-spacing="1.68" fill="#ffffff">MEDIAN</text></g><text transform="translate(976.80,202.70) scale(0.5280,1)" font-size="48.55" letter-spacing="1.89" fill="#ffffff">CLOSED</text><g transform="translate(1.00,0)"><text transform="translate(976.80,202.70) scale(0.5280,1)" font-size="48.55" letter-spacing="1.89" fill="#ffffff">CLOSED</text></g><g transform="translate(2.01,0)"><text transform="translate(976.80,202.70) scale(0.5280,1)" font-size="48.55" letter-spacing="1.89" fill="#ffffff">CLOSED</text></g><g transform="translate(3.01,0)"><text transform="translate(976.80,202.70) scale(0.5280,1)" font-size="48.55" letter-spacing="1.89" fill="#ffffff">CLOSED</text></g><text transform="translate(1099.33,202.70) scale(0.5458,1)" font-size="48.55" letter-spacing="1.83" fill="#ffffff">PRICE</text><g transform="translate(0.98,0)"><text transform="translate(1099.33,202.70) scale(0.5458,1)" font-size="48.55" letter-spacing="1.83" fill="#ffffff">PRICE</text></g><g transform="translate(1.95,0)"><text transform="translate(1099.33,202.70) scale(0.5458,1)" font-size="48.55" letter-spacing="1.83" fill="#ffffff">PRICE</text></g><g transform="translate(2.93,0)"><text transform="translate(1099.33,202.70) scale(0.5458,1)" font-size="48.55" letter-spacing="1.83" fill="#ffffff">PRICE</text></g></g>
<clipPath id="p4"><rect x="42" y="490" width="392" height="345"/></clipPath>
<g clip-path="url(#p4)">
<polygon points="160.0,784.0 211.0,835.0 440.0,835.0 440.0,764.5 330.0,673.0 324.0,668.0 324.0,784.0" fill="#6a3d97"/>
<rect x="162.8" y="585.0" width="28.7" height="75.0" fill="#d08a2e"/>
<polygon points="160.0,666.0 244.0,590.0 324.0,666.0 324.0,784.0 160.0,784.0" fill="#f6a52f"/>
<polygon points="160.0,671.0 244.0,596.0 324.0,671.0 324.0,690.0 244.0,616.0 160.0,690.0" fill="#d08a2e"/>
<polygon points="137.7,658.0 244.0,577.7 347.0,658.0 339.0,671.0 244.0,598.0 149.0,671.0" fill="#f6a52f"/>
<rect x="190.2" y="714.0" width="21.5" height="20.5" fill="#ffffff"/>
<rect x="213.5" y="714.0" width="21.5" height="20.5" fill="#ffffff"/>
<rect x="190.2" y="736.5" width="21.5" height="20.5" fill="#ffffff"/>
<rect x="213.5" y="736.5" width="21.5" height="20.5" fill="#ffffff"/>
<rect x="259.0" y="714.0" width="39.7" height="70.0" fill="#c98030"/>
<circle cx="267.0" cy="749.3" r="4.6" fill="#ffffff"/>
</g>
<g><polygon points="177.5,565.0 188.4,565.0 188.4,630.8 177.5,630.8 177.5,581.0 169.3,581.0 169.3,572.8" fill="#231f20"/><text transform="translate(192.38,630.80) scale(0.5734,1)" font-size="95.64" fill="#231f20">,</text><g transform="translate(1.17,0)"><text transform="translate(192.38,630.80) scale(0.5734,1)" font-size="95.64" fill="#231f20">,</text></g><g transform="translate(2.34,0)"><text transform="translate(192.38,630.80) scale(0.5734,1)" font-size="95.64" fill="#231f20">,</text></g><g transform="translate(3.51,0)"><text transform="translate(192.38,630.80) scale(0.5734,1)" font-size="95.64" fill="#231f20">,</text></g><g transform="translate(4.69,0)"><text transform="translate(192.38,630.80) scale(0.5734,1)" font-size="95.64" fill="#231f20">,</text></g><text transform="translate(212.30,630.80) scale(0.5734,1)" font-size="95.64" fill="#231f20">5</text><g transform="translate(1.17,0)"><text transform="translate(212.30,630.80) scale(0.5734,1)" font-size="95.64" fill="#231f20">5</text></g><g transform="translate(2.34,0)"><text transform="translate(212.30,630.80) scale(0.5734,1)" font-size="95.64" fill="#231f20">5</text></g><g transform="translate(3.51,0)"><text transform="translate(212.30,630.80) scale(0.5734,1)" font-size="95.64" fill="#231f20">5</text></g><g transform="translate(4.69,0)"><text transform="translate(212.30,630.80) scale(0.5734,1)" font-size="95.64" fill="#231f20">5</text></g><text transform="translate(247.49,630.80) scale(0.5734,1)" font-size="95.64" fill="#231f20">2</text><g transform="translate(1.17,0)"><text transform="translate(247.49,630.80) scale(0.5734,1)" font-size="95.64" fill="#231f20">2</text></g><g transform="translate(2.34,0)"><text transform="translate(247.49,630.80) scale(0.5734,1)" font-size="95.64" fill="#231f20">2</text></g><g transform="translate(3.51,0)"><text transform="translate(247.49,630.80) scale(0.5734,1)" font-size="95.64" fill="#231f20">2</text></g><g transform="translate(4.69,0)"><text transform="translate(247.49,630.80) scale(0.5734,1)" font-size="95.64" fill="#231f20">2</text></g><text transform="translate(282.67,630.80) scale(0.5734,1)" font-size="95.64" fill="#231f20">7</text><g transform="translate(1.17,0)"><text transform="translate(282.67,630.80) scale(0.5734,1)" font-size="95.64" fill="#231f20">7</text></g><g transform="translate(2.34,0)"><text transform="translate(282.67,630.80) scale(0.5734,1)" font-size="95.64" fill="#231f20">7</text></g><g transform="translate(3.51,0)"><text transform="translate(282.67,630.80) scale(0.5734,1)" font-size="95.64" fill="#231f20">7</text></g><g transform="translate(4.69,0)"><text transform="translate(282.67,630.80) scale(0.5734,1)" font-size="95.64" fill="#231f20">7</text></g></g>
<rect x="83.2" y="706.7" width="106.1" height="104.6" fill="#f58232" rx="6"/>
<polygon points="99.3,774.7 110.9,759.8 105.1,759.8 105.1,740.0 93.5,740.0 93.5,759.8 87.7,759.8" fill="#ffffff"/>
<g><polygon points="121.4,740.0 126.3,740.0 126.3,773.5 121.4,773.5 121.4,748.1 117.6,748.1 117.6,744.0" fill="#ffffff"/><text transform="translate(128.81,773.50) scale(0.7858,1)" font-size="48.69" fill="#ffffff">4</text><g transform="translate(1.22,0)"><text transform="translate(128.81,773.50) scale(0.7858,1)" font-size="48.69" fill="#ffffff">4</text></g><g transform="translate(2.43,0)"><text transform="translate(128.81,773.50) scale(0.7858,1)" font-size="48.69" fill="#ffffff">4</text></g></g>
<rect x="157.10" y="741.90" width="5.89" height="17.30" rx="2.95" fill="none" stroke="#ffffff" stroke-width="3.8"/><rect x="173.61" y="754.29" width="5.89" height="17.30" rx="2.95" fill="none" stroke="#ffffff" stroke-width="3.8"/><polygon points="173.28,740.00 176.08,740.00 166.12,773.50 163.32,773.50" fill="#ffffff"/>
<g><text transform="translate(132.82,539.60) scale(0.5495,1)" font-size="48.40" letter-spacing="1.82" fill="#ffffff">NEW</text><g transform="translate(0.97,0)"><text transform="translate(132.82,539.60) scale(0.5495,1)" font-size="48.40" letter-spacing="1.82" fill="#ffffff">NEW</text></g><g transform="translate(1.95,0)"><text transform="translate(132.82,539.60) scale(0.5495,1)" font-size="48.40" letter-spacing="1.82" fill="#ffffff">NEW</text></g><g transform="translate(2.92,0)"><text transform="translate(132.82,539.60) scale(0.5495,1)" font-size="48.40" letter-spacing="1.82" fill="#ffffff">NEW</text></g><text transform="translate(210.25,539.60) scale(0.5661,1)" font-size="48.40" letter-spacing="1.77" fill="#ffffff">LISTINGS</text><g transform="translate(0.95,0)"><text transform="translate(210.25,539.60) scale(0.5661,1)" font-size="48.40" letter-spacing="1.77" fill="#ffffff">LISTINGS</text></g><g transform="translate(1.90,0)"><text transform="translate(210.25,539.60) scale(0.5661,1)" font-size="48.40" letter-spacing="1.77" fill="#ffffff">LISTINGS</text></g><g transform="translate(2.84,0)"><text transform="translate(210.25,539.60) scale(0.5661,1)" font-size="48.40" letter-spacing="1.77" fill="#ffffff">LISTINGS</text></g></g>
<clipPath id="p5"><rect x="434" y="490" width="389.5" height="345"/></clipPath>
<g clip-path="url(#p5)">
<path d="M489,682.5 A33,33 0 0 1 489,616.3 L705,616.3 L705,626 L600,626 L600,682.5Z" fill="#dfe6ea"/>
<circle cx="586.0" cy="586.0" r="31.0" fill="#dfe6ea"/>
<path d="M711,619 L711,575 A21,21 0 0 1 752,570 A20,20 0 0 1 790,590 A15,15 0 0 1 790,619Z" fill="#dfe6ea"/>
<circle cx="731.6" cy="575.0" r="21.0" fill="#dfe6ea"/>
<circle cx="773.0" cy="597.0" r="20.0" fill="#dfe6ea"/>
<circle cx="791.0" cy="605.0" r="14.0" fill="#dfe6ea"/>
<rect x="720.0" y="600.0" width="71.0" height="19.0" fill="#dfe6ea"/>
<rect x="572.0" y="566.6" width="166.7" height="27.2" fill="#e03340"/>
<g><text transform="translate(629.26,590.40) scale(0.5809,1)" font-size="26.45" font-weight="700" letter-spacing="2.07" fill="#ffffff">SOLD</text><g transform="translate(0.60,0)"><text transform="translate(629.26,590.40) scale(0.5809,1)" font-size="26.45" font-weight="700" letter-spacing="2.07" fill="#ffffff">SOLD</text></g></g>
<polygon points="530.0,557.5 544.8,552.0 560.8,557.5 560.8,840.0 530.0,840.0" fill="#bcb0aa"/>
<polygon points="476.0,593.9 751.5,593.9 747.0,616.3 481.4,616.3" fill="#bcb0aa"/>
<rect x="602.6" y="616.0" width="3.8" height="10.0" fill="#9aa0a6"/>
<rect x="704.4" y="616.0" width="4.6" height="10.0" fill="#9aa0a6"/>
<rect x="572.0" y="625.2" width="167.3" height="129.3" fill="#ffffff"/>
</g>
<g><text transform="translate(602.69,720.00) scale(0.6236,1)" font-size="94.04" fill="#231f20">7</text><g transform="translate(1.08,0)"><text transform="translate(602.69,720.00) scale(0.6236,1)" font-size="94.04" fill="#231f20">7</text></g><g transform="translate(2.17,0)"><text transform="translate(602.69,720.00) scale(0.6236,1)" font-size="94.04" fill="#231f20">7</text></g><g transform="translate(3.25,0)"><text transform="translate(602.69,720.00) scale(0.6236,1)" font-size="94.04" fill="#231f20">7</text></g><g transform="translate(4.33,0)"><text transform="translate(602.69,720.00) scale(0.6236,1)" font-size="94.04" fill="#231f20">7</text></g><polygon points="653.7,655.3 664.4,655.3 664.4,720.0 653.7,720.0 653.7,671.0 645.6,671.0 645.6,662.9" fill="#231f20"/><text transform="translate(668.40,720.00) scale(0.6236,1)" font-size="94.04" fill="#231f20">8</text><g transform="translate(1.08,0)"><text transform="translate(668.40,720.00) scale(0.6236,1)" font-size="94.04" fill="#231f20">8</text></g><g transform="translate(2.17,0)"><text transform="translate(668.40,720.00) scale(0.6236,1)" font-size="94.04" fill="#231f20">8</text></g><g transform="translate(3.25,0)"><text transform="translate(668.40,720.00) scale(0.6236,1)" font-size="94.04" fill="#231f20">8</text></g><g transform="translate(4.33,0)"><text transform="translate(668.40,720.00) scale(0.6236,1)" font-size="94.04" fill="#231f20">8</text></g></g>
<rect x="702.2" y="724.0" width="107.5" height="98.6" fill="#ec3546" rx="6"/>
<polygon points="719.3,755.0 730.9,769.9 725.1,769.9 725.1,789.7 713.5,789.7 713.5,769.9 707.7,769.9" fill="#ffffff"/>
<g><text transform="translate(732.65,789.70) scale(0.7936,1)" font-size="48.98" fill="#ffffff">2</text><g transform="translate(1.19,0)"><text transform="translate(732.65,789.70) scale(0.7936,1)" font-size="48.98" fill="#ffffff">2</text></g><g transform="translate(2.37,0)"><text transform="translate(732.65,789.70) scale(0.7936,1)" font-size="48.98" fill="#ffffff">2</text></g><polygon points="763.5,756.0 768.4,756.0 768.4,789.7 763.5,789.7 763.5,764.2 759.6,764.2 759.6,760.0" fill="#ffffff"/></g>
<rect x="774.10" y="757.90" width="5.89" height="17.43" rx="2.95" fill="none" stroke="#ffffff" stroke-width="3.8"/><rect x="790.61" y="770.37" width="5.89" height="17.43" rx="2.95" fill="none" stroke="#ffffff" stroke-width="3.8"/><polygon points="790.28,756.00 793.08,756.00 783.12,789.70 780.32,789.70" fill="#ffffff"/>
<g><text transform="translate(447.41,539.60) scale(0.5626,1)" font-size="48.40" letter-spacing="1.78" fill="#ffffff">OVERALL</text><g transform="translate(0.95,0)"><text transform="translate(447.41,539.60) scale(0.5626,1)" font-size="48.40" letter-spacing="1.78" fill="#ffffff">OVERALL</text></g><g transform="translate(1.91,0)"><text transform="translate(447.41,539.60) scale(0.5626,1)" font-size="48.40" letter-spacing="1.78" fill="#ffffff">OVERALL</text></g><g transform="translate(2.86,0)"><text transform="translate(447.41,539.60) scale(0.5626,1)" font-size="48.40" letter-spacing="1.78" fill="#ffffff">OVERALL</text></g><text transform="translate(590.97,539.60) scale(0.5407,1)" font-size="48.40" letter-spacing="1.85" fill="#ffffff">CLOSED</text><g transform="translate(0.99,0)"><text transform="translate(590.97,539.60) scale(0.5407,1)" font-size="48.40" letter-spacing="1.85" fill="#ffffff">CLOSED</text></g><g transform="translate(1.97,0)"><text transform="translate(590.97,539.60) scale(0.5407,1)" font-size="48.40" letter-spacing="1.85" fill="#ffffff">CLOSED</text></g><g transform="translate(2.96,0)"><text transform="translate(590.97,539.60) scale(0.5407,1)" font-size="48.40" letter-spacing="1.85" fill="#ffffff">CLOSED</text></g><text transform="translate(714.96,539.60) scale(0.5621,1)" font-size="48.40" letter-spacing="1.78" fill="#ffffff">SALES</text><g transform="translate(0.95,0)"><text transform="translate(714.96,539.60) scale(0.5621,1)" font-size="48.40" letter-spacing="1.78" fill="#ffffff">SALES</text></g><g transform="translate(1.91,0)"><text transform="translate(714.96,539.60) scale(0.5621,1)" font-size="48.40" letter-spacing="1.78" fill="#ffffff">SALES</text></g><g transform="translate(2.86,0)"><text transform="translate(714.96,539.60) scale(0.5621,1)" font-size="48.40" letter-spacing="1.78" fill="#ffffff">SALES</text></g></g>
<clipPath id="p6"><rect x="823.5" y="490" width="391.5" height="345"/></clipPath>
<g clip-path="url(#p6)">
<polygon points="1126.0,580.0 1230.0,677.0 1230.0,840.0 985.0,840.0 910.0,763.0 909.0,580.0" fill="#71ad4b"/>
<polygon points="952.1,568.0 952.1,579.5 964.1,579.5" fill="#71ad4b"/>
<polygon points="986.6,568.0 986.6,579.5 998.6,579.5" fill="#71ad4b"/>
<polygon points="1021.8,568.0 1021.8,579.5 1033.8,579.5" fill="#71ad4b"/>
<polygon points="1057.9,568.0 1057.9,579.5 1069.9,579.5" fill="#71ad4b"/>
<polygon points="1092.4,568.0 1092.4,579.5 1104.4,579.5" fill="#71ad4b"/>
<rect x="912.0" y="583.0" width="218.0" height="180.5" fill="#a0a4ae"/>
<rect x="909.2" y="579.4" width="216.3" height="181.2" fill="#ffffff"/>
<rect x="935.0" y="632.0" width="18.5" height="14.0" fill="#eea08e"/>
<rect x="960.2" y="632.0" width="18.5" height="14.0" fill="#eea08e"/>
<rect x="986.2" y="632.0" width="18.5" height="14.0" fill="#d3e6f7"/>
<rect x="1011.5" y="632.0" width="18.5" height="14.0" fill="#d3e6f7"/>
<rect x="1036.3" y="632.0" width="18.5" height="14.0" fill="#d3e6f7"/>
<rect x="1062.0" y="632.0" width="18.5" height="14.0" fill="#d3e6f7"/>
<rect x="1087.4" y="632.0" width="18.5" height="14.0" fill="#d3e6f7"/>
<rect x="935.0" y="656.0" width="18.5" height="14.0" fill="#eea08e"/>
<rect x="960.2" y="656.0" width="18.5" height="14.0" fill="#eea08e"/>
<rect x="986.2" y="656.0" width="18.5" height="14.0" fill="#d3e6f7"/>
<rect x="1011.5" y="656.0" width="18.5" height="14.0" fill="#d3e6f7"/>
<rect x="1036.3" y="656.0" width="18.5" height="14.0" fill="#d3e6f7"/>
<rect x="1062.0" y="656.0" width="18.5" height="14.0" fill="#d3e6f7"/>
<rect x="1087.4" y="656.0" width="18.5" height="14.0" fill="#d3e6f7"/>
<rect x="935.0" y="680.7" width="18.5" height="14.0" fill="#eea08e"/>
<rect x="960.2" y="680.7" width="18.5" height="14.0" fill="#eea08e"/>
<rect x="986.2" y="680.7" width="18.5" height="14.0" fill="#d3e6f7"/>
<rect x="1011.5" y="680.7" width="18.5" height="14.0" fill="#d3e6f7"/>
<rect x="1036.3" y="680.7" width="18.5" height="14.0" fill="#d3e6f7"/>
<rect x="1062.0" y="680.7" width="18.5" height="14.0" fill="#d3e6f7"/>
<rect x="1087.4" y="680.7" width="18.5" height="14.0" fill="#d3e6f7"/>
<rect x="935.0" y="704.8" width="18.5" height="14.0" fill="#eea08e"/>
<rect x="960.2" y="704.8" width="18.5" height="14.0" fill="#eea08e"/>
<rect x="986.2" y="704.8" width="18.5" height="14.0" fill="#d3e6f7"/>
<rect x="1011.5" y="704.8" width="18.5" height="14.0" fill="#d3e6f7"/>
<rect x="1036.3" y="704.8" width="18.5" height="14.0" fill="#d3e6f7"/>
<rect x="1062.0" y="704.8" width="18.5" height="14.0" fill="#d3e6f7"/>
<rect x="1087.4" y="704.8" width="18.5" height="14.0" fill="#d3e6f7"/>
<rect x="935.0" y="729.0" width="18.5" height="14.0" fill="#eea08e"/>
<rect x="960.2" y="729.0" width="18.5" height="14.0" fill="#eea08e"/>
<rect x="986.2" y="729.0" width="18.5" height="14.0" fill="#d3e6f7"/>
<circle cx="947.1" cy="605.5" r="9.3" fill="#6d6e70"/>
<rect x="942.1" y="568.3" width="10.0" height="34.7" fill="#b9babe" rx="2"/>
<rect x="942.1" y="568.3" width="5.0" height="34.7" fill="#e6e6e8" rx="1"/>
<circle cx="981.6" cy="605.5" r="9.3" fill="#6d6e70"/>
<rect x="976.6" y="568.3" width="10.0" height="34.7" fill="#b9babe" rx="2"/>
<rect x="976.6" y="568.3" width="5.0" height="34.7" fill="#e6e6e8" rx="1"/>
<circle cx="1016.8" cy="605.5" r="9.3" fill="#6d6e70"/>
<rect x="1011.8" y="568.3" width="10.0" height="34.7" fill="#b9babe" rx="2"/>
<rect x="1011.8" y="568.3" width="5.0" height="34.7" fill="#e6e6e8" rx="1"/>
<circle cx="1052.9" cy="605.5" r="9.3" fill="#6d6e70"/>
<rect x="1047.9" y="568.3" width="10.0" height="34.7" fill="#b9babe" rx="2"/>
<rect x="1047.9" y="568.3" width="5.0" height="34.7" fill="#e6e6e8" rx="1"/>
<circle cx="1087.4" cy="605.5" r="9.3" fill="#6d6e70"/>
<rect x="1082.4" y="568.3" width="10.0" height="34.7" fill="#b9babe" rx="2"/>
<rect x="1082.4" y="568.3" width="5.0" height="34.7" fill="#e6e6e8" rx="1"/>
</g>
<g><text transform="translate(980.12,701.40) scale(0.6010,1)" font-size="95.21" fill="#231f20">9</text><g transform="translate(1.12,0)"><text transform="translate(980.12,701.40) scale(0.6010,1)" font-size="95.21" fill="#231f20">9</text></g><g transform="translate(2.23,0)"><text transform="translate(980.12,701.40) scale(0.6010,1)" font-size="95.21" fill="#231f20">9</text></g><g transform="translate(3.35,0)"><text transform="translate(980.12,701.40) scale(0.6010,1)" font-size="95.21" fill="#231f20">9</text></g><g transform="translate(4.46,0)"><text transform="translate(980.12,701.40) scale(0.6010,1)" font-size="95.21" fill="#231f20">9</text></g><polygon points="1030.6,635.9 1041.4,635.9 1041.4,701.4 1030.6,701.4 1030.6,651.8 1022.4,651.8 1022.4,643.6" fill="#231f20"/></g>
<rect x="1090.2" y="706.2" width="107.5" height="105.3" fill="#8274b4" rx="6"/>
<polygon points="1113.5,740.6 1124.5,756.0 1119.0,756.0 1119.0,776.4 1107.9,776.4 1107.9,756.0 1102.4,756.0" fill="#ffffff"/>
<g><text transform="translate(1132.67,774.90) scale(0.5218,1)" font-size="49.86" fill="#ffffff">7</text><g transform="translate(1.19,0)"><text transform="translate(1132.67,774.90) scale(0.5218,1)" font-size="49.86" fill="#ffffff">7</text></g><g transform="translate(2.38,0)"><text transform="translate(1132.67,774.90) scale(0.5218,1)" font-size="49.86" fill="#ffffff">7</text></g><g transform="translate(3.57,0)"><text transform="translate(1132.67,774.90) scale(0.5218,1)" font-size="49.86" fill="#ffffff">7</text></g></g>
<rect x="1155.10" y="742.50" width="5.89" height="17.81" rx="2.95" fill="none" stroke="#ffffff" stroke-width="3.8"/><rect x="1171.61" y="755.19" width="5.89" height="17.81" rx="2.95" fill="none" stroke="#ffffff" stroke-width="3.8"/><polygon points="1171.28,740.60 1174.08,740.60 1164.12,774.90 1161.32,774.90" fill="#ffffff"/>
<g><text transform="translate(886.67,539.60) scale(0.5623,1)" font-size="48.40" letter-spacing="1.78" fill="#ffffff">DAYS</text><g transform="translate(0.95,0)"><text transform="translate(886.67,539.60) scale(0.5623,1)" font-size="48.40" letter-spacing="1.78" fill="#ffffff">DAYS</text></g><g transform="translate(1.91,0)"><text transform="translate(886.67,539.60) scale(0.5623,1)" font-size="48.40" letter-spacing="1.78" fill="#ffffff">DAYS</text></g><g transform="translate(2.86,0)"><text transform="translate(886.67,539.60) scale(0.5623,1)" font-size="48.40" letter-spacing="1.78" fill="#ffffff">DAYS</text></g><text transform="translate(975.38,539.60) scale(0.4883,1)" font-size="48.40" letter-spacing="2.05" fill="#ffffff">ON</text><g transform="translate(1.07,0)"><text transform="translate(975.38,539.60) scale(0.4883,1)" font-size="48.40" letter-spacing="2.05" fill="#ffffff">ON</text></g><g transform="translate(2.13,0)"><text transform="translate(975.38,539.60) scale(0.4883,1)" font-size="48.40" letter-spacing="2.05" fill="#ffffff">ON</text></g><g transform="translate(3.20,0)"><text transform="translate(975.38,539.60) scale(0.4883,1)" font-size="48.40" letter-spacing="2.05" fill="#ffffff">ON</text></g><text transform="translate(1022.95,539.60) scale(0.5929,1)" font-size="48.40" letter-spacing="1.69" fill="#ffffff">MARKET</text><g transform="translate(0.91,0)"><text transform="translate(1022.95,539.60) scale(0.5929,1)" font-size="48.40" letter-spacing="1.69" fill="#ffffff">MARKET</text></g><g transform="translate(1.82,0)"><text transform="translate(1022.95,539.60) scale(0.5929,1)" font-size="48.40" letter-spacing="1.69" fill="#ffffff">MARKET</text></g><g transform="translate(2.72,0)"><text transform="translate(1022.95,539.60) scale(0.5929,1)" font-size="48.40" letter-spacing="1.69" fill="#ffffff">MARKET</text></g></g>
</svg>
</body></html>
